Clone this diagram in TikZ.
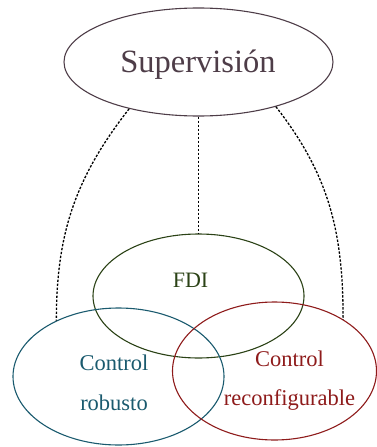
\documentclass[tikz,border=0pt]{standalone}
\usepackage{fontspec}
\setmainfont{Liberation Serif}
\usetikzlibrary{shapes.geometric}
\definecolor{supcol}{HTML}{4E3D48}
\definecolor{fdicol}{HTML}{2B4216}
\definecolor{robcol}{HTML}{1A5A6E}
\definecolor{reccol}{HTML}{8E1B1B}
\tikzset{
  area/.style={ellipse, draw, line width=1.1pt, inner sep=0pt},
  link/.style={draw=black, line width=1.3pt, dash pattern=on 2.4pt off 1.6pt},
  lbl/.style={anchor=base, inner sep=0pt, font=\fontsize{22.5}{27}\selectfont}
}
\begin{document}
\begin{tikzpicture}[x=1pt,y=-1pt]
\useasboundingbox (0,0) rectangle (376,447);
% regions
\node[area, draw=supcol, minimum width=269pt, minimum height=108pt] (sup) at (198.5,62) {};
\node[area, draw=fdicol, minimum width=211pt, minimum height=124pt] (fdi) at (198.5,296) {};
\node[area, draw=robcol, minimum width=211pt, minimum height=137pt] (rob) at (118.5,376.5) {};
\node[area, draw=reccol, minimum width=204pt, minimum height=138pt] (rec) at (274.5,371) {};
% labels
\node[anchor=base, inner sep=0pt, text=supcol, font=\fontsize{32.5}{38}\selectfont] (suptxt) at (198,72) {Supervisión};
\node[lbl, font=\fontsize{22}{26}\selectfont, text=fdicol] (fditxt) at (190.5,287) {FDI};
\node[lbl, text=robcol] (robA) at (114,370.5) {Control};
\node[lbl, text=robcol] (robB) at (114,410) {robusto};
\node[lbl, text=reccol] (recA) at (289.5,366) {Control};
\node[lbl, text=reccol] (recB) at (289.5,405) {reconfigurable};
% supervision links
\draw[link] (sup.south) -- (fdi.north);
\draw[link] (sup.214) to[out=232,in=90] (rob.138);
\draw[link] (sup.-30) to[out=-52,in=90] (rec.37);
\end{tikzpicture}
\end{document}
